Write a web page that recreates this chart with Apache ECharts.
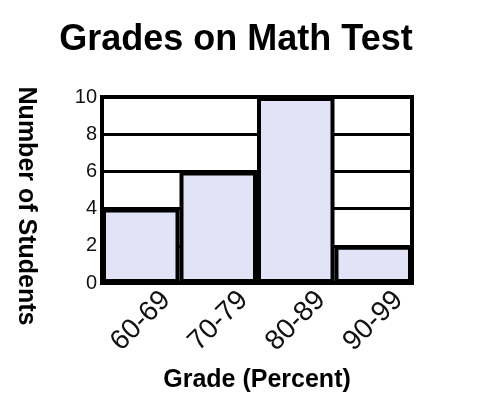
<!DOCTYPE html>
<html>
<head>
<meta charset="utf-8">
<script src="https://cdn.jsdelivr.net/npm/echarts@6/dist/echarts.min.js"></script>
<style>
  html, body { margin: 0; padding: 0; background: #fff; }
  #chart { width: 486px; height: 404px; }
</style>
</head>
<body>
<div id="chart"></div>
<script>
const gradeRanges = ['60-69', '70-79', '80-89', '90-99']
const studentCounts = [4, 6, 10, 2]
const countTicks = { min: 0, max: 10, interval: 2 }

const chart = echarts.init(document.getElementById('chart'))
const font = 'Liberation Sans, Arial, sans-serif'

chart.setOption({
  animation: false,
  backgroundColor: '#fff',
  title: {
    text: 'Grades on Math Test',
    left: 231,
    top: 17,
    textAlign: 'center',
    textStyle: { fontFamily: font, fontSize: 36, fontWeight: 'bold', color: '#000' },
  },
  grid: {
    left: 102,
    right: 74,
    top: 97,
    bottom: 121,
    show: true,
    backgroundColor: '#fff',
    borderColor: '#000',
    borderWidth: 4,
  },
  xAxis: {
    type: 'category',
    data: gradeRanges,
    name: 'Grade (Percent)',
    nameLocation: 'middle',
    nameGap: 85,
    nameTextStyle: { fontFamily: font, fontSize: 25, fontWeight: 'bold', color: '#000' },
    axisLine: { lineStyle: { color: '#000', width: 4 } },
    axisTick: { show: false },
    axisLabel: {
      rotate: 45,
      align: 'center',
      verticalAlign: 'middle',
      margin: 38,
      fontFamily: font,
      fontSize: 28,
      color: '#111',
    },
  },
  yAxis: {
    type: 'value',
    min: countTicks.min,
    max: countTicks.max,
    interval: countTicks.interval,
    name: 'Number of Students',
    nameLocation: 'middle',
    nameRotate: -90,
    nameGap: 64,
    nameTextStyle: {
      fontFamily: font,
      fontSize: 25,
      fontWeight: 'bold',
      color: '#000',
      padding: [0, 0, 0, 32],
    },
    axisLine: { show: true, lineStyle: { color: '#000', width: 4 } },
    axisTick: { show: false },
    axisLabel: { margin: 5, fontFamily: font, fontSize: 20, color: '#111' },
    splitLine: { lineStyle: { color: '#000', width: 3 } },
  },
  series: [
    {
      type: 'bar',
      data: studentCounts,
      barCategoryGap: 0,
      itemStyle: { color: '#e3e3f8', borderColor: '#000', borderWidth: 4 },
    },
  ],
})
</script>
</body>
</html>
